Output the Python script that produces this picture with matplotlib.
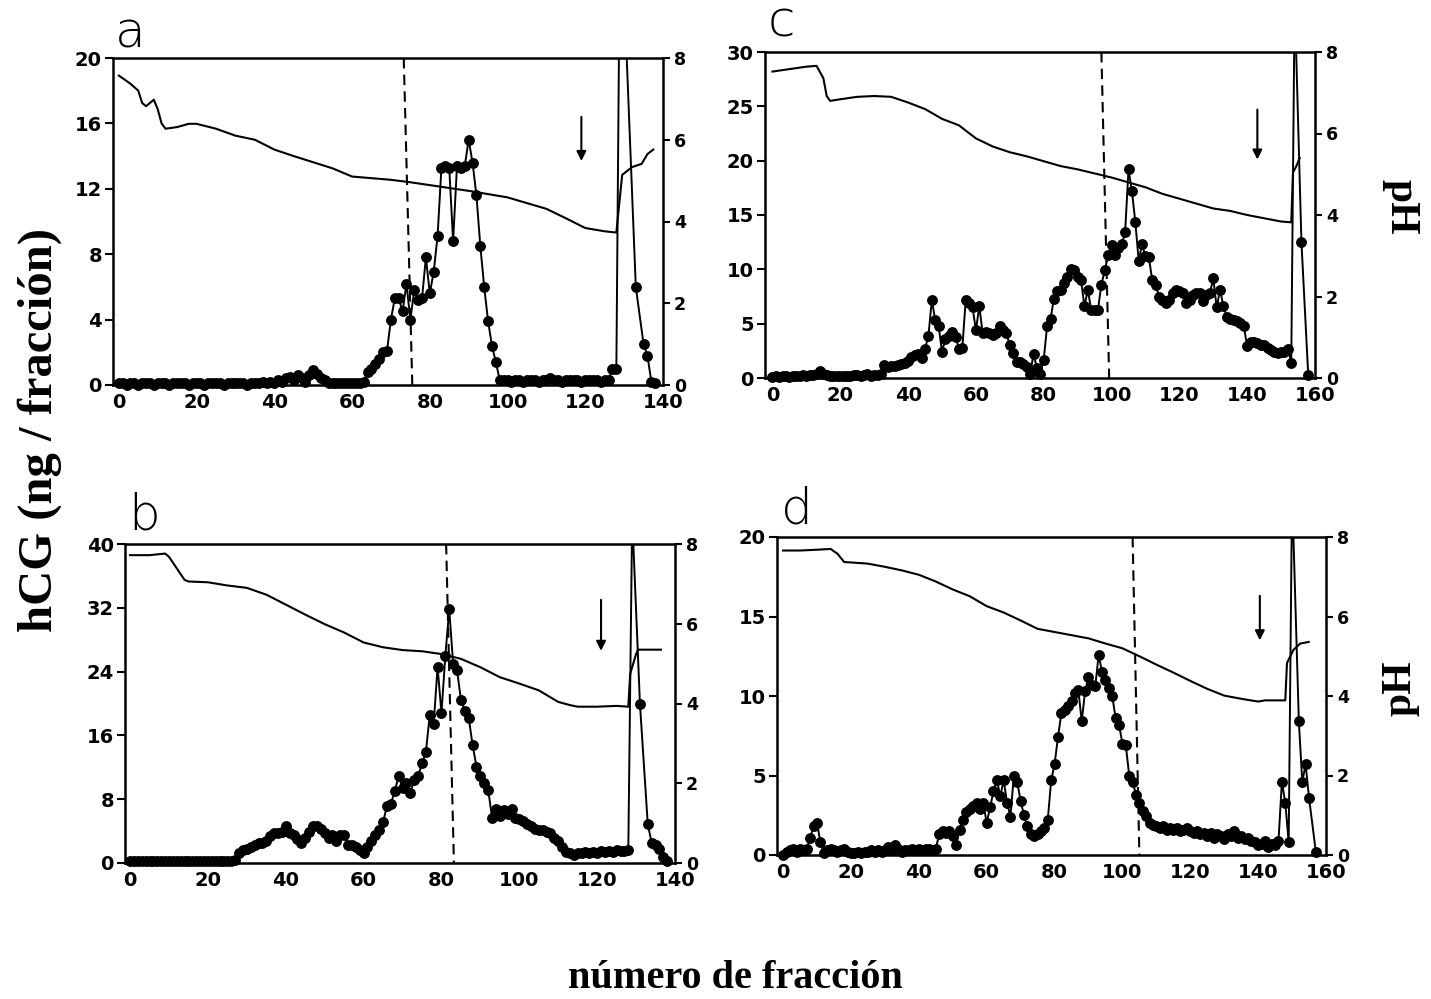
import matplotlib
matplotlib.use('Agg')
import matplotlib.pyplot as plt
from matplotlib.patches import Rectangle

# ---------------- DATA ----------------
# Panel a
a_frac = list(range(0, 130)) + [133, 135, 136, 137, 138]
a_hcg = [0.1, 0.1, 0.0, 0.1, 0.1, 0.0, 0.1, 0.1, 0.1, 0.0,
         0.1, 0.1, 0.1, 0.0, 0.1, 0.1, 0.1, 0.1, 0.0, 0.1,
         0.1, 0.1, 0.0, 0.1, 0.1, 0.1, 0.1, 0.0, 0.1, 0.1,
         0.1, 0.1, 0.1, 0.0, 0.1, 0.1, 0.1, 0.2,
         0.1, 0.2, 0.1, 0.3, 0.2, 0.4, 0.5, 0.3, 0.6, 0.4,
         0.2, 0.6, 0.9, 0.7, 0.4, 0.3, 0.1, 0.1, 0.1, 0.1,
         0.1, 0.1, 0.1, 0.1, 0.1, 0.2,
         0.8, 1.0, 1.3, 1.6, 2.0, 2.1, 4.0, 5.3, 5.3, 4.5,
         6.2, 4.0, 5.8, 5.2, 5.3, 7.8, 5.6, 6.9, 9.1, 13.3,
         13.4, 13.3, 8.8, 13.4, 13.3, 13.4, 15.0, 13.6, 11.6, 8.5,
         6.0, 3.9, 2.4, 1.4, 0.3,
         0.3, 0.3, 0.2, 0.3, 0.3, 0.2, 0.3, 0.3, 0.3, 0.2,
         0.3, 0.3, 0.4, 0.3, 0.3, 0.2, 0.3, 0.3, 0.3, 0.3,
         0.2, 0.3, 0.3, 0.3, 0.3, 0.2, 0.3, 0.3,
         1.0, 1.0, 30.0,
         6.0, 2.5, 1.8, 0.2, 0.1]
a_ph_x = [0, 3, 5, 6, 7, 8, 9, 10, 11, 12, 15, 18, 20, 25, 30, 35, 40, 45, 50,
          55, 60, 65, 70, 75, 80, 85, 90, 95, 100, 105, 110, 115, 120, 125, 128,
          128.6, 129.5, 132, 134.5, 136, 137.5]
a_ph = [7.57, 7.37, 7.2, 6.9, 6.82, 6.9, 6.98, 6.75, 6.4, 6.27, 6.31, 6.39, 6.39,
        6.27, 6.1, 6.0, 5.76, 5.6, 5.45, 5.3, 5.1, 5.06, 5.02, 4.96, 4.89, 4.82,
        4.75, 4.67, 4.59, 4.45, 4.31, 4.08, 3.84, 3.76, 3.73, 4.3, 5.14, 5.33,
        5.41, 5.65, 5.76]

# Panel b
b_frac = list(range(0, 130)) + [131, 133, 134, 135, 136, 137, 138]
b_hcg = [0.2, 0.2, 0.3, 0.2, 0.2, 0.3, 0.2, 0.2, 0.2, 0.3,
         0.2, 0.2, 0.2, 0.3, 0.2, 0.2, 0.2, 0.2, 0.3, 0.2,
         0.2, 0.2, 0.3, 0.2, 0.2, 0.2, 0.3,
         0.4, 1.2, 1.6, 1.8, 2.0, 2.2, 2.5, 2.5, 2.8, 3.4,
         3.7, 3.7, 3.9, 4.7, 3.7, 3.5, 3.0, 2.5, 3.1, 3.9,
         4.7, 4.7, 4.3, 3.7, 3.1, 3.5, 2.7, 3.5, 3.5, 2.3,
         2.2, 2.0, 1.6, 1.3, 2.0, 2.7, 3.5, 4.1, 5.1, 7.2,
         7.4, 9.0, 10.9, 9.4, 10.0, 8.8, 10.4, 10.9, 12.5, 13.9,
         18.6, 17.4, 24.6, 18.8, 26.0, 31.8, 25.0, 24.2, 20.5, 19.1,
         18.2, 14.8, 12.1, 10.9, 10.0, 9.2, 5.7, 6.8, 5.9, 6.6,
         6.1, 6.8, 5.7, 5.5, 5.3, 4.9, 4.7, 4.3, 4.1, 4.1,
         3.9, 3.7, 3.1, 2.7, 2.0, 1.4, 1.2, 1.0, 1.2, 1.3,
         1.4, 1.3, 1.4, 1.3, 1.5, 1.4, 1.5, 1.4, 1.6, 1.5,
         1.5, 1.6, 43.5,
         19.9, 4.9, 2.5, 2.2, 1.8, 0.8, 0.3]
b_ph_x = [0, 5, 9, 10, 12, 14, 15, 20, 25, 30, 35, 40, 45, 50, 55, 60, 65, 70, 75,
          80, 85, 90, 95, 100, 105, 110, 113, 115, 120, 125, 128, 128.5, 130,
          130.5, 136.4]
b_ph = [7.72, 7.72, 7.76, 7.68, 7.39, 7.1, 7.06, 7.04, 6.96, 6.9, 6.73, 6.48, 6.23,
        5.99, 5.78, 5.53, 5.41, 5.34, 5.31, 5.24, 5.12, 4.91, 4.66, 4.5, 4.33,
        4.04, 3.96, 3.92, 3.92, 3.94, 3.92, 4.75, 5.24, 5.35, 5.35]

# Panel c
c_frac = list(range(0, 155)) + [156, 158]
c_hcg = [0.1, 0.2, 0.1, 0.2, 0.2, 0.1, 0.2, 0.2, 0.2, 0.3,
         0.2, 0.3, 0.3, 0.4, 0.6, 0.4, 0.3, 0.2, 0.2, 0.2,
         0.2, 0.2, 0.2, 0.2, 0.3, 0.3, 0.2, 0.3, 0.4, 0.2,
         0.3, 0.3, 0.4,
         1.2, 1.0, 1.1, 1.1, 1.2, 1.3, 1.4, 1.6, 1.9, 2.1,
         2.2, 1.8, 2.7, 3.9, 7.2, 5.3, 4.8, 2.4, 3.6, 3.9,
         4.2, 3.8, 2.7, 2.8, 7.2, 6.9, 6.5, 4.4, 6.6, 4.1,
         4.2, 4.1, 4.0, 4.1, 4.8, 4.4, 4.1, 3.0, 2.3, 1.5,
         1.5, 1.3, 1.0, 0.4, 2.2, 0.9, 0.4, 1.7, 4.8, 5.4,
         7.3, 8.0, 8.1, 8.7, 9.3, 10.0, 9.9, 9.3, 9.0, 6.6,
         8.1, 6.3, 6.3, 6.3, 8.6, 9.9, 11.3, 12.2, 11.3, 12.0,
         12.3, 13.4, 19.2, 17.2, 14.4, 10.8, 12.3, 11.2, 11.1, 9.0,
         8.6, 7.5, 7.2, 6.9, 7.2, 7.8, 8.1, 8.0, 7.8, 6.9,
         7.2, 7.6, 7.8, 7.8, 7.1, 7.6, 7.8, 9.2, 6.5, 8.1,
         6.6, 5.6, 5.4, 5.3, 5.2, 5.1, 4.8, 2.9, 3.3, 3.3,
         3.2, 3.0, 3.0, 2.8, 2.6, 2.4, 2.3, 2.4, 2.4, 2.7,
         1.4, 35.0,
         12.5, 0.3]
c_ph_x = [0, 5, 10, 13, 15, 16, 17, 20, 25, 30, 35, 40, 45, 50, 55, 60, 65, 70, 75,
          80, 85, 90, 95, 100, 105, 110, 115, 120, 125, 130, 135, 140, 145, 150,
          153, 153.5, 154.5, 155.5]
c_ph = [7.52, 7.58, 7.64, 7.66, 7.36, 6.92, 6.8, 6.84, 6.9, 6.92, 6.9, 6.76, 6.6,
        6.36, 6.2, 5.88, 5.68, 5.54, 5.44, 5.32, 5.2, 5.12, 5.02, 4.92, 4.8, 4.68,
        4.52, 4.4, 4.28, 4.16, 4.1, 4.0, 3.92, 3.84, 3.82, 5.04, 5.2, 5.4]

# Panel d
d_frac = list(range(0, 151)) + [152, 153, 154, 155, 157]
d_hcg = [0.0, 0.2, 0.3, 0.4, 0.2, 0.4, 0.3, 0.4, 1.1, 1.8,
         2.0, 0.8, 0.1, 0.3, 0.4, 0.3, 0.2, 0.3, 0.4, 0.2,
         0.1, 0.1, 0.2, 0.1, 0.2, 0.2, 0.3, 0.2, 0.3, 0.2,
         0.3, 0.5, 0.3, 0.6, 0.4, 0.2, 0.3, 0.3, 0.4, 0.3,
         0.4, 0.3, 0.4, 0.4, 0.3,
         0.4, 1.3, 1.5, 1.4, 1.5, 1.2, 0.6, 1.6, 2.2, 2.7,
         2.9, 3.1, 3.3, 2.9, 3.3, 2.0, 3.0, 4.0, 4.7, 3.7,
         4.7, 3.3, 2.4, 5.0, 4.6, 3.4, 2.5, 1.8, 1.3, 1.2,
         1.3, 1.5, 1.7, 2.2, 4.7, 5.7, 7.4, 8.9, 9.1, 9.4,
         9.7, 10.2, 10.4, 8.4, 10.3, 11.2, 10.7, 10.6, 12.6, 11.5,
         11.0, 10.5, 10.0, 8.6, 8.2, 7.0, 6.9, 5.0, 4.6, 3.8,
         3.3, 2.75, 2.45, 2.0, 1.9,
         1.8, 1.7, 1.8, 1.6, 1.7, 1.6, 1.7, 1.5, 1.6, 1.7,
         1.5, 1.4, 1.5, 1.3, 1.4, 1.2, 1.4, 1.1, 1.3, 1.2,
         1.0, 1.3, 1.2, 1.5, 1.1, 1.2, 1.0, 1.1, 0.9, 0.8,
         0.6, 0.7, 0.9, 0.5, 0.7, 0.6, 0.9, 4.6, 3.3, 0.8,
         22.9,
         8.4, 4.6, 5.7, 3.6, 0.2]
d_ph_x = [0, 5, 10, 14, 16, 18, 20, 25, 30, 35, 40, 45, 50, 55, 60, 65, 70, 75, 80,
          85, 90, 95, 100, 105, 110, 115, 120, 125, 130, 135, 140, 142, 148, 148.5,
          150.4, 152.4, 154.9]
d_ph = [7.66, 7.66, 7.68, 7.7, 7.58, 7.37, 7.36, 7.33, 7.25, 7.16, 7.05, 6.88, 6.68,
        6.51, 6.26, 6.1, 5.9, 5.69, 5.61, 5.53, 5.45, 5.32, 5.2, 5.0, 4.79, 4.59,
        4.38, 4.18, 4.01, 3.93, 3.86, 3.89, 3.89, 4.83, 5.16, 5.32, 5.36]

# Axis ticks
a_yticks = [0, 4, 8, 12, 16, 20]
b_yticks = [0, 8, 16, 24, 32, 40]
c_yticks = [0, 5, 10, 15, 20, 25, 30]
d_yticks = [0, 5, 10, 15, 20]
ph_ticks = [0, 2, 4, 6, 8]
ab_xticks = [0, 20, 40, 60, 80, 100, 120, 140]
cd_xticks = [0, 20, 40, 60, 80, 100, 120, 140, 160]

# Reference marks (dashed line: x at top, x at bottom; arrow: x, y start, y end)
a_dash = [73.3, 75.5]
b_dash = [81.2, 83.2]
c_dash = [97.0, 99.3]
d_dash = [103.0, 105.0]
a_arrow = [119, 16.4, 13.7]
b_arrow = [121, 33.0, 26.6]
c_arrow = [143, 24.7, 20.1]
d_arrow = [140.5, 16.3, 13.5]

# ---------------- FIGURE ----------------
W, H = 1431, 999
fig = plt.figure(figsize=(W / 100, H / 100), dpi=100)
fig.patch.set_facecolor('white')


def px_rect(l, r, t, b):
    return [l / W, 1 - b / H, (r - l) / W, (b - t) / H]


panels = [
    dict(rect=px_rect(113, 663, 58, 385), xlim=(-1.5, 140), ymax=20,
         yt=a_yticks, xt=ab_xticks, fr=a_frac, hcg=a_hcg, phx=a_ph_x, ph=a_ph,
         dash=a_dash, arrow=a_arrow, letter='a', lpos=(115, 47)),
    dict(rect=px_rect(765, 1315, 52, 378), xlim=(-2.2, 160), ymax=30,
         yt=c_yticks, xt=cd_xticks, fr=c_frac, hcg=c_hcg, phx=c_ph_x, ph=c_ph,
         dash=c_dash, arrow=c_arrow, letter='c', lpos=(768, 37)),
    dict(rect=px_rect(125, 675, 544, 863), xlim=(-1.3, 140), ymax=40,
         yt=b_yticks, xt=ab_xticks, fr=b_frac, hcg=b_hcg, phx=b_ph_x, ph=b_ph,
         dash=b_dash, arrow=b_arrow, letter='b', lpos=(128, 530)),
    dict(rect=px_rect(777, 1326, 537, 855), xlim=(-1.8, 160), ymax=20,
         yt=d_yticks, xt=cd_xticks, fr=d_frac, hcg=d_hcg, phx=d_ph_x, ph=d_ph,
         dash=d_dash, arrow=d_arrow, letter='d', lpos=(781, 523)),
]

for p in panels:
    ax = fig.add_axes(p['rect'])
    ax2 = ax.twinx()
    ax.set_xlim(*p['xlim'])
    ax.set_ylim(0, p['ymax'])
    ax2.set_ylim(0, 8)

    # hCG series
    clip = Rectangle((-0.03, -0.05), 1.06, 1.05, transform=ax.transAxes,
                     facecolor='none', edgecolor='none')
    ax.add_patch(clip)
    clip.set_visible(False)
    ln, = ax.plot(p['fr'], p['hcg'], color='black', lw=1.4, marker='o',
                  markersize=6.8, markerfacecolor='black',
                  markeredgecolor='black', zorder=3)
    ln.set_clip_path(clip)

    # pH series
    ax2.plot(p['phx'], p['ph'], color='black', lw=1.5, zorder=2)

    # dashed line
    ax.plot(p['dash'], [p['ymax'], 0], color='black', lw=1.5,
            linestyle=(0, (5, 3)), zorder=2)

    # arrow
    xa, y0, y1 = p['arrow']
    ax.annotate('', xy=(xa, y1), xytext=(xa, y0),
                arrowprops=dict(arrowstyle='-|>', lw=1.5, color='black',
                                mutation_scale=14, shrinkA=0, shrinkB=0))

    # spines
    for s in ['left', 'top', 'bottom']:
        ax.spines[s].set_linewidth(1.8)
    ax.spines['right'].set_visible(False)
    for s in ['left', 'top', 'bottom']:
        ax2.spines[s].set_visible(False)
    ax2.spines['right'].set_linewidth(1.8)

    ax.set_xticks(p['xt'])
    ax.set_yticks(p['yt'])
    ax2.set_yticks(ph_ticks)
    ax.tick_params(axis='y', direction='out', length=6, width=1.5, pad=2,
                   labelsize=14)
    ax.tick_params(axis='x', length=0, pad=6, labelsize=14)
    ax2.tick_params(axis='y', direction='out', length=5, width=1.5, pad=3,
                    labelsize=12.5)
    for lab in ax.get_xticklabels() + ax.get_yticklabels() + ax2.get_yticklabels():
        lab.set_fontweight('bold')
        lab.set_fontfamily('DejaVu Sans')

    lx, ly = p['lpos']
    fig.text(lx / W, 1 - ly / H, p['letter'], fontsize=36, ha='left',
             va='baseline', family='DejaVu Sans', weight='light')

# axis titles
fig.text(40 / W, 1 - 430 / H, 'hCG (ng / fracción)', rotation=90,
         fontsize=35, family='Liberation Serif', weight='bold',
         ha='center', va='center')
fig.text(735 / W, 1 - 978 / H, 'número de fracción', fontsize=29,
         family='Liberation Serif', weight='bold', ha='center', va='center')
fig.text(1400 / W, 1 - 207 / H, 'pH', rotation=270, fontsize=30,
         family='Liberation Serif', weight='bold', ha='center', va='center')
fig.text(1400 / W, 1 - 688 / H, 'pH', rotation=90, fontsize=30,
         family='Liberation Serif', weight='bold', ha='center', va='center')

fig.savefig('out.png', dpi=100, facecolor='white')
